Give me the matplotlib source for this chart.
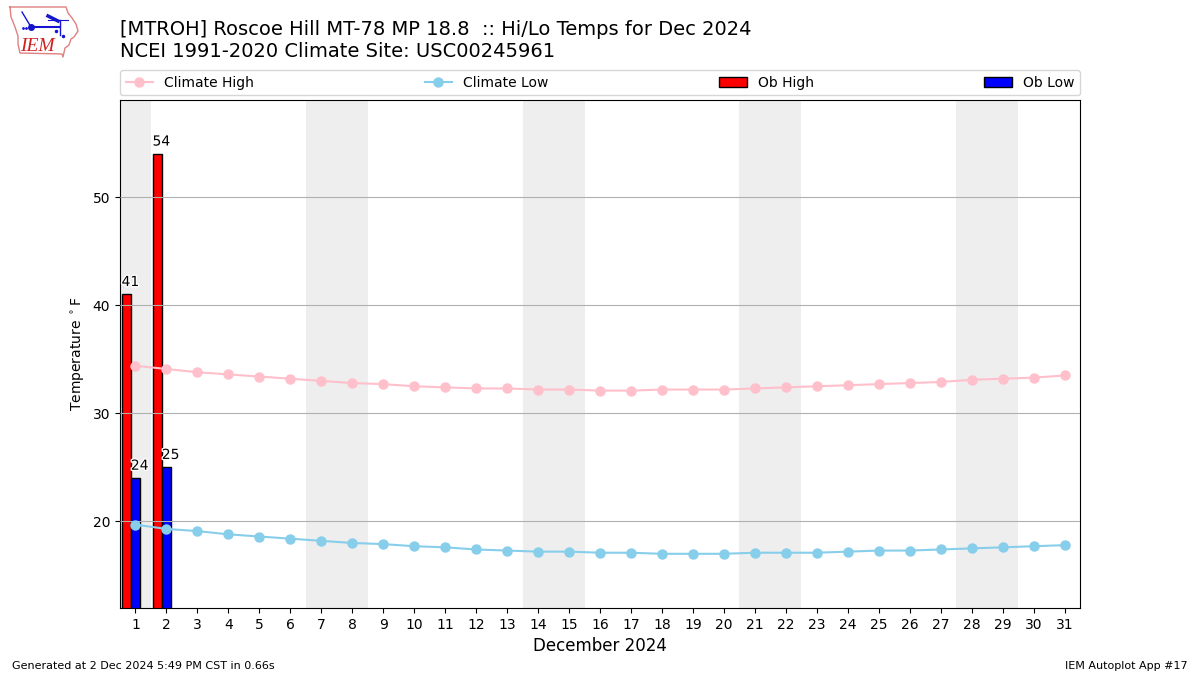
import matplotlib
matplotlib.use("Agg")
import matplotlib.pyplot as plt
import matplotlib.patheffects as PathEffects

days = list(range(1, 32))
climate_high = [34.4, 34.1, 33.8, 33.6, 33.4, 33.2, 33.0, 32.8, 32.7, 32.5, 32.4,
                32.3, 32.3, 32.2, 32.2, 32.1, 32.1, 32.2, 32.2, 32.2, 32.3, 32.4,
                32.5, 32.6, 32.7, 32.8, 32.9, 33.1, 33.2, 33.3, 33.5]
climate_low = [19.7, 19.3, 19.1, 18.8, 18.6, 18.4, 18.2, 18.0, 17.9, 17.7, 17.6,
               17.4, 17.3, 17.2, 17.2, 17.1, 17.1, 17.0, 17.0, 17.0, 17.1, 17.1,
               17.1, 17.2, 17.3, 17.3, 17.4, 17.5, 17.6, 17.7, 17.8]
ob_days = [1, 2]
ob_high = [41, 54]
ob_low = [24, 25]
weekends = [(0.5, 1.5), (6.5, 8.5), (13.5, 15.5), (20.5, 22.5), (27.5, 29.5)]

fig = plt.figure(figsize=(12, 6.75), dpi=100)
ax = fig.add_axes([0.1, 0.0995, 0.8, 0.7525])

# weekend shading
for start, end in weekends:
    ax.axvspan(start, end, color="#eeeeee", lw=0, zorder=0)

ax.bar([d - 0.3 for d in ob_days], ob_high, width=0.3, color="r", edgecolor="k", label="Ob High", zorder=2)
ax.bar(ob_days, ob_low, width=0.3, color="b", edgecolor="k", label="Ob Low", zorder=2)
ax.plot(days, climate_high, color="pink", marker="o", ms=6.5, label="Climate High", zorder=4)
ax.plot(days, climate_low, color="skyblue", marker="o", ms=6.5, label="Climate Low", zorder=4)

halo = [PathEffects.withStroke(linewidth=2, foreground="white")]
for d, val in zip(ob_days, ob_high):
    ax.text(d - 0.45, val + 0.5, str(val), ha="left", va="bottom", fontsize=10, zorder=5, path_effects=halo)
for d, val in zip(ob_days, ob_low):
    ax.text(d - 0.15, val + 0.5, str(val), ha="left", va="bottom", fontsize=10, zorder=5, path_effects=halo)

ax.set_xlim(0.5, 31.5)
ax.set_ylim(12, 59)
ax.set_xticks(days)
ax.set_yticks([20, 30, 40, 50])
ax.grid(axis="y", color="#b0b0b0", zorder=3)
ax.set_axisbelow(False)
ax.set_xlabel("December 2024", fontsize=12)
ax.set_ylabel("Temperature $^\\circ$F")

handles, labels = ax.get_legend_handles_labels()
order = [labels.index(n) for n in ["Climate High", "Climate Low", "Ob High", "Ob Low"]]
ax.legend([handles[i] for i in order], [labels[i] for i in order], ncol=4, mode="expand",
          loc="lower left", bbox_to_anchor=(0, 1.009, 1, 0.05), borderaxespad=0, fontsize=10)

fig.text(0.1, 0.9095, "[MTROH] Roscoe Hill MT-78 MP 18.8  :: Hi/Lo Temps for Dec 2024\nNCEI 1991-2020 Climate Site: USC00245961",
         fontsize=14, ha="left", va="bottom", linespacing=1.2)
fig.text(0.01, 0.0065, "Generated at 2 Dec 2024 5:49 PM CST in 0.66s", fontsize=8, va="bottom")
fig.text(0.99, 0.0065, "IEM Autoplot App #17", fontsize=8, ha="right", va="bottom")

# logo drawn in its own pixel-sized axes
logo = fig.add_axes([0, 1 - 60 / 675, 84 / 1200, 60 / 675])
logo.set_xlim(0, 84)
logo.set_ylim(60, 0)
logo.axis("off")
outline_x = [10, 66, 68, 72, 76, 78, 74, 71, 69, 65, 63, 62, 20, 18, 18, 15, 11, 10]
outline_y = [7, 7, 13, 18, 24, 31, 37, 39, 45, 48, 57, 54, 53, 44, 36, 27, 17, 7]
logo.plot(outline_x, outline_y, color="#e08080", lw=1)
logo.plot([31, 60], [27, 27], color="#1515d0", lw=1.5)
logo.plot([60, 60], [20, 35], color="#1515d0", lw=1)
logo.plot([22, 31], [12, 27], color="#1515d0", lw=1)
logo.plot([31], [27], "o", color="#1515d0", ms=4)
logo.plot([48, 58], [16, 21], color="#1515d0", lw=2.5)
logo.plot([48, 68], [20, 20], color="#1515d0", lw=0.8)
logo.plot([56, 63], [31, 36], ".", color="#1515d0", ms=3)
logo.plot([23, 26], [28, 28], ".", color="#1515d0", ms=2)
logo.text(20, 51, "IEM", color="#d02020", fontsize=14, family="Liberation Serif", style="italic")

fig.savefig("out.png", dpi=100)
